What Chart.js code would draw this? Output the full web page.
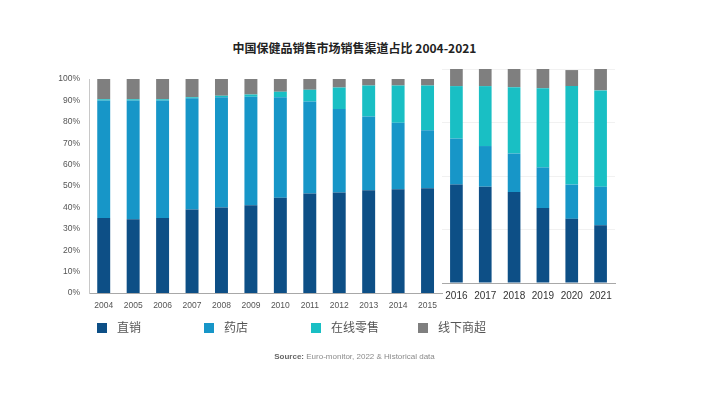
<!DOCTYPE html>
<html>
<head>
<meta charset="utf-8">
<script src="https://cdn.jsdelivr.net/npm/chart.js@4"></script>
<style>
  body { margin: 0; background: #fff; }
  #wrap { position: relative; width: 709px; height: 397px; overflow: hidden; background: #fff; }
  #title { position: absolute; top: 39px; left: 0; width: 709px; text-align: center;
    font: bold 12px "Noto Sans CJK SC", sans-serif; color: #222; }
  #chartA { position: absolute; left: 0; top: 0; }
  #chartB { position: absolute; left: 430px; top: 0; }
  #legend { position: absolute; top: 318px; left: 0; width: 709px; height: 20px; }
  .item { position: absolute; top: 0; font: 12px "Noto Sans CJK SC", sans-serif; color: #555; white-space: nowrap; }
  .item span.sw { display: inline-block; width: 10px; height: 10px; vertical-align: -1px; margin-right: 10px; }
  #source { position: absolute; top: 352px; left: 0; width: 709px; text-align: center;
    font: 8px "Liberation Sans", Arial, sans-serif; color: #8a8a8a; }
  #source b { color: #666; }
</style>
</head>
<body>
<div id="wrap">
  <div id="title">中国保健品销售市场销售渠道占比 2004-2021</div>
  <canvas id="chartA" width="445" height="320"></canvas>
  <canvas id="chartB" width="200" height="320"></canvas>
  <div id="legend"></div>
  <div id="source"><b>Source:</b> Euro-monitor, 2022 &amp; Historical data</div>
</div>
<script>
// 2004-2015 panel
const yearsA = ["2004", "2005", "2006", "2007", "2008", "2009", "2010", "2011", "2012", "2013", "2014", "2015"];
const directA   = [35, 34.5, 35, 39, 40, 41, 44.5, 46.5, 47, 48, 48.5, 49];
const pharmacyA = [55, 55.5, 55, 52, 51.5, 50.7, 47, 43, 39, 34.5, 31, 27];
const onlineA   = [0.5, 0.5, 0.5, 0.5, 0.7, 1, 2.5, 5.5, 10, 14.5, 17.5, 21];
const offlineA  = [9.5, 9.5, 9.5, 8.5, 7.8, 7.3, 6, 5, 4, 3, 3, 3];

// 2016-2021 panel
const yearsB = ["2016", "2017", "2018", "2019", "2020", "2021"];
const directB   = [46, 45, 42.5, 35, 30, 27];
const pharmacyB = [21.5, 19, 18, 19, 16, 18];
const onlineB   = [24.5, 28, 31, 37, 46, 45];
const offlineB  = [8, 8, 8.5, 9, 7.5, 10];

const seriesNames = ["直销", "药店", "在线零售", "线下商超"];
const seriesColors = ["#0d4f86", "#1796c8", "#19bfc4", "#7f7f7f"];

function makeDatasets(parts) {
  return parts.map((data, i) => ({
    label: seriesNames[i],
    data: data,
    backgroundColor: seriesColors[i],
    borderWidth: 0,
    barPercentage: 0.44,
    categoryPercentage: 1
  }));
}

new Chart(document.getElementById("chartA"), {
  type: "bar",
  data: { labels: yearsA, datasets: makeDatasets([directA, pharmacyA, onlineA, offlineA]) },
  options: {
    responsive: false,
    animation: false,
    layout: { padding: { top: 79, bottom: 7, left: 0, right: 0 } },
    plugins: { legend: { display: false }, tooltip: { enabled: false } },
    scales: {
      x: {
        stacked: true,
        grid: { display: false, drawTicks: false },
        border: { color: "#a8a8a8" },
        ticks: { color: "#555", font: { family: "Liberation Sans", size: 8.5 }, padding: 8 },
        afterFit: s => { s.height = 20; }
      },
      y: {
        stacked: true,
        min: 0, max: 100,
        grid: { display: false, drawTicks: false },
        border: { color: "#c8c8c8" },
        ticks: { stepSize: 10, color: "#555", padding: 9,
          font: { family: "Liberation Sans", size: 8.5 },
          callback: v => v + "%" },
        afterFit: s => { s.width = 89; }
      }
    }
  }
});

new Chart(document.getElementById("chartB"), {
  type: "bar",
  data: { labels: yearsB, datasets: makeDatasets([directB, pharmacyB, onlineB, offlineB]) },
  options: {
    responsive: false,
    animation: false,
    layout: { padding: { top: 69, bottom: 17, left: 0, right: 15 } },
    plugins: { legend: { display: false }, tooltip: { enabled: false } },
    scales: {
      x: {
        stacked: true,
        grid: { display: false, drawTicks: false },
        border: { color: "#a8a8a8" },
        ticks: { color: "#333", font: { family: "Liberation Sans", size: 10 }, padding: 7 },
        afterFit: s => { s.height = 20; }
      },
      y: {
        stacked: true,
        min: 0, max: 100,
        grid: { color: "#f1f1f1", drawTicks: false },
        border: { display: false },
        ticks: { display: false, stepSize: 25 },
        afterFit: s => { s.width = 12; }
      }
    }
  }
});

// legend
const legendX = [97, 204, 311, 418];
const legend = document.getElementById("legend");
seriesNames.forEach((name, i) => {
  const d = document.createElement("div");
  d.className = "item";
  d.style.left = legendX[i] + "px";
  d.innerHTML = `<span class="sw" style="background:${seriesColors[i]}"></span>${name}`;
  legend.appendChild(d);
});
</script>
</body>
</html>
